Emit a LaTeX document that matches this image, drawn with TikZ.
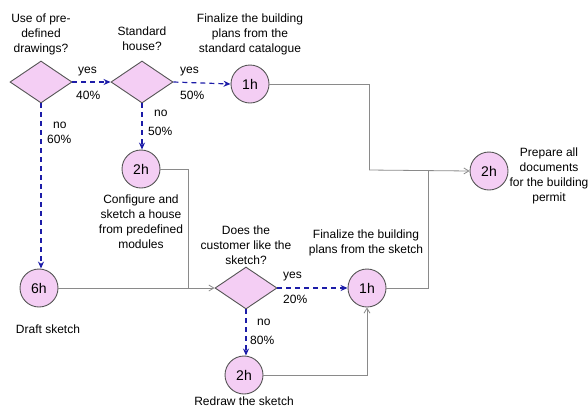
\documentclass[tikz,border=0pt]{standalone}
\usepackage{fontspec}
\setmainfont{Liberation Sans}
\usetikzlibrary{shapes.geometric,arrows.meta}
\definecolor{pinkfill}{HTML}{F4CEF4}
\definecolor{edgegray}{HTML}{555555}
\definecolor{linegray}{HTML}{8A8A8A}
\definecolor{dashblue}{HTML}{1C1CA8}
\tikzset{
  dec/.style={diamond,draw=edgegray,line width=0.9pt,fill=pinkfill,minimum width=62pt,minimum height=42pt,inner sep=0pt},
  task/.style={circle,draw=edgegray,line width=0.9pt,fill=pinkfill,minimum size=38pt,inner sep=0pt,font=\fontsize{14}{16}\selectfont},
  lbl/.style={align=center,font=\fontsize{12}{15}\selectfont,inner sep=0pt},
  plbl/.style={font=\fontsize{12}{14}\selectfont,inner sep=0pt,anchor=west},
  dflow/.style={draw=dashblue,line width=1.2pt,dash pattern=on 5pt off 4pt,-{Stealth[length=7pt,width=6pt]}},
  sflow/.style={draw=linegray,line width=0.8pt},
  sarrow/.style={sflow,-{Straight Barb[length=5pt,width=6pt]}}
}
\begin{document}
\begin{tikzpicture}[x=1pt,y=-1pt]
\useasboundingbox (0,0) rectangle (588,408);
% nodes
\node[dec] (d1) at (41,82) {};
\node[dec] (d2) at (142,82) {};
\node[task] (t1) at (250,84) {1h};
\node[task] (t2) at (141,169) {2h};
\node[task] (t6) at (39,288) {6h};
\node[dec] (d3) at (246,288) {};
\node[task] (t1b) at (367,288) {1h};
\node[task] (t2r) at (244,375) {2h};
\node[task] (tf) at (489,171) {2h};
\coordinate (jc) at (188,288);
\coordinate (ja) at (369,84);
\coordinate (jb) at (369,170);
\coordinate (jd) at (428,170);
% labels
\node[lbl] (l1) at (41,34) {Use of pre-\\defined\\drawings?};
\node[lbl] (l2) at (142,39) {Standard\\house?};
\node[lbl] (l3) at (250,34) {Finalize the building\\plans from the\\standard catalogue};
\node[lbl] (l4) at (141,222) {Configure and\\sketch a house\\from predefined\\modules};
\node[lbl] (l5) at (246,245) {Does the\\customer like the\\sketch?};
\node[lbl] (l6) at (366,243) {Finalize the building\\plans from the sketch};
\node[lbl] (l7) at (48,329) {Draft sketch};
\node[lbl] (l8) at (244,401) {Redraw the sketch};
\node[lbl] (l9) at (549,176) {Prepare all\\documents\\for the building\\permit};
% percentages
\node[plbl] (p1) at (78,72) {yes};
\node[plbl] (p2) at (76,95) {40\%};
\node[plbl] (p3) at (180,72) {yes};
\node[plbl] (p4) at (180,95) {50\%};
\node[plbl] (p5) at (53,125) {no};
\node[plbl] (p6) at (47,139) {60\%};
\node[plbl] (p7) at (154,113) {no};
\node[plbl] (p8) at (148,131) {50\%};
\node[plbl] (p9) at (283,277) {yes};
\node[plbl] (p10) at (283,299) {20\%};
\node[plbl] (p11) at (257,322) {no};
\node[plbl] (p12) at (250,340) {80\%};
% dashed flows
\draw[dflow] (d1.east) -- (d2.west);
\draw[dflow] (d2.east) -- (t1.west);
\draw[dflow] (d1.south) -- (d1.south |- t6.north);
\draw[dflow] (d2.south) -- (d2.south |- t2.north);
\draw[dflow] (d3.east) -- (t1b.west);
\draw[dflow] (d3.south) -- (d3.south |- t2r.north);
% solid flows
\draw[sarrow] (t6.east) -- (d3.west);
\draw[sflow] (t2.east) -| (jc);
\draw[sflow] (t1.east) -- (ja) -- (jb);
\draw[sarrow] (jb) -- (tf.west);
\draw[sflow] (t1b.east) -| (jd);
\draw[sarrow] (t2r.east) -| (t1b.south);
\end{tikzpicture}
\end{document}
